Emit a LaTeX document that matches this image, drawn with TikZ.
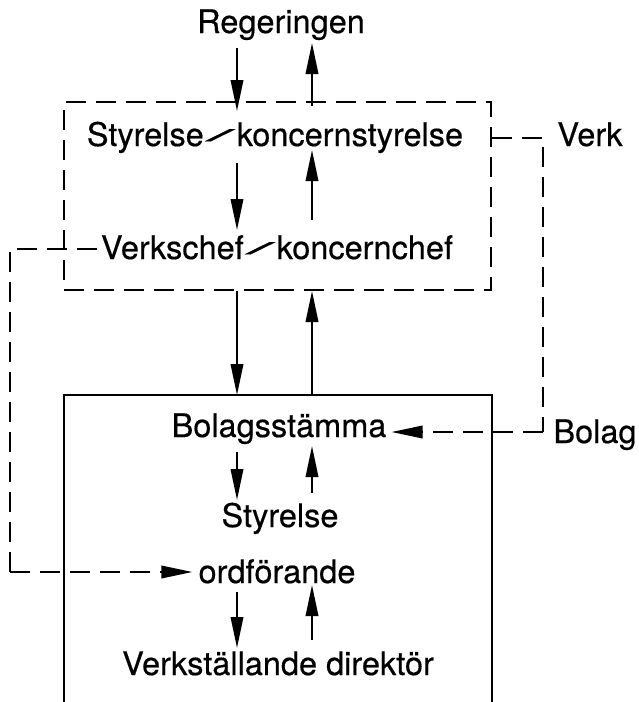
\documentclass[tikz,border=0pt]{standalone}
\usepackage{fontspec}
\setmainfont{TeX Gyre Heros}
\newfontfamily\labelfont{TeX Gyre Heros}[FakeBold=0.4]
\usetikzlibrary{arrows.meta,calc}

% wide, shallow slash used between paired titles
\newcommand\pairslash{\kern2pt\raisebox{5pt}{\scalebox{3.2}[0.5]{/}}\kern2pt}

\tikzset{
  lbl/.style={inner sep=0pt, anchor=base, font=\fontsize{32.5}{38}\labelfont},
  tip/.style={-{Triangle[length=31pt,width=12.5pt]}},
  arr/.style={line width=2pt, tip},
  dashline/.style={line width=2pt, dash pattern=on 20pt off 10pt},
  dashbox/.style={draw, line width=2pt, dash pattern=on 20pt off 10pt, inner sep=0pt},
  solidbox/.style={line width=2pt}
}

\begin{document}
\begin{tikzpicture}[x=1pt,y=-1pt]
  \useasboundingbox (0,0) rectangle (638,702);

  % arrow columns
  \coordinate (cL) at (237,0);
  \coordinate (cR) at (312,0);

  % text
  \node[lbl] (reg)   at (281,33)  {Regeringen};
  \node[lbl] (sty)   at (275,146) {Styrelse\pairslash koncernstyrelse};
  \node[lbl] (vch)   at (277,259) {Verkschef\pairslash koncernchef};
  \node[lbl] (bst)   at (279,437) {Bolagsstämma};
  \node[lbl] (sty2)  at (280,527) {Styrelse};
  \node[lbl] (ord)   at (277,583) {ordförande};
  \node[lbl] (vd)    at (278,675) {Verkställande direktör};
  \node[lbl] (verk)  at (590,146) {Verk};
  \node[lbl] (bolag) at (595,443) {Bolag};

  % upper (dashed) box
  \node[dashbox, minimum width=427pt, minimum height=188pt] (dbox) at (277.5,196) {};

  % lower box, open at the bottom
  \coordinate (sbtop) at (278,395);
  \coordinate (sbl) at (64,712);
  \coordinate (sbr) at (492,712);
  \draw[solidbox] (sbl) -- (sbl |- sbtop) -- (sbr |- sbtop) -- (sbr);

  % Regeringen <-> upper box
  \draw[arr, shorten >=-10pt] ([yshift=-15pt]reg.base -| cL) -- (dbox.north -| cL);
  \draw[arr, shorten <=-5pt] (dbox.north -| cR) -- ([yshift=-10pt]reg.base -| cR);

  % inside upper box
  \draw[arr] ([yshift=-17pt]sty.base -| cL) -- ([yshift=29pt]vch.base -| cL);
  \draw[arr] ([yshift=39pt]vch.base -| cR) -- ([yshift=-4pt]sty.base -| cR);

  % between boxes
  \draw[arr] (dbox.south -| cL) -- (sbtop -| cL);
  \draw[arr] (sbtop -| cR) -- (dbox.south -| cR);

  % inside lower box
  \draw[arr] ([yshift=-15pt]bst.base -| cL) -- ([yshift=27pt]sty2.base -| cL);
  \draw[arr] ([yshift=34pt]sty2.base -| cR) -- ([yshift=-9pt]bst.base -| cR);
  \draw[arr] ([yshift=-9pt]ord.base -| cL) -- ([yshift=27pt]vd.base -| cL);
  \draw[arr] ([yshift=35pt]vd.base -| cR) -- ([yshift=-2pt]ord.base -| cR);

  % dashed link: upper box -> Bolagsstämma
  \coordinate (rk) at (543,138);
  \coordinate (rb) at (543,432);
  \draw[dashline] (dbox.east |- rk) -- (rk) -- (rb);
  \draw[dashline, tip, shorten >=5pt] (rb) -- (bst.east |- rb);

  % dashed link: Verkschef -> ordförande
  \coordinate (lv) at (10,249);
  \coordinate (lo) at (10,572);
  \draw[dashline] ([xshift=-4pt]vch.west |- lv) -- (lv) -- (lo);
  \draw[dashline, tip, shorten >=6pt] (lo) -- (ord.west |- lo);
\end{tikzpicture}
\end{document}
